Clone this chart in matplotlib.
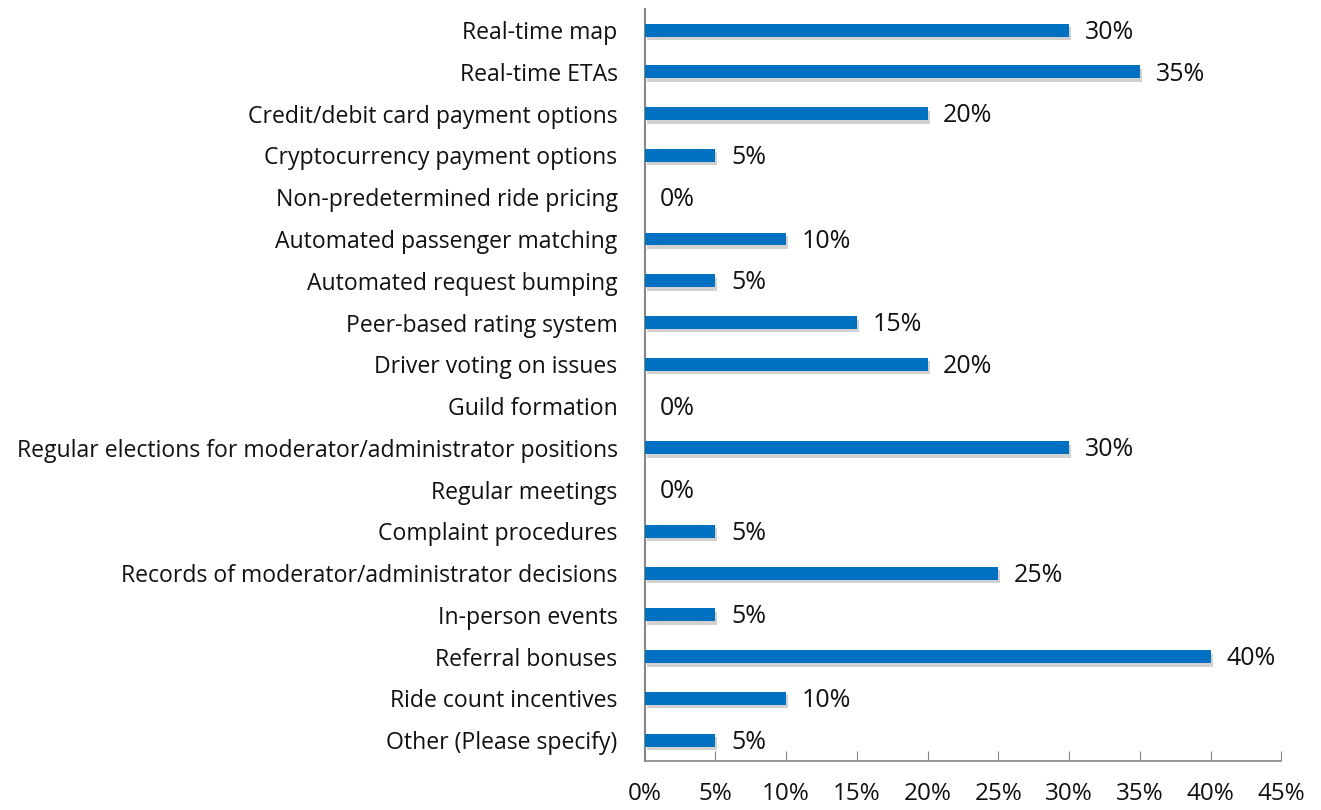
import matplotlib
matplotlib.use("Agg")
import matplotlib.pyplot as plt
import matplotlib.patheffects as pe
import numpy as np

features = [
    "Real-time map",
    "Real-time ETAs",
    "Credit/debit card payment options",
    "Cryptocurrency payment options",
    "Non-predetermined ride pricing",
    "Automated passenger matching",
    "Automated request bumping",
    "Peer-based rating system",
    "Driver voting on issues",
    "Guild formation",
    "Regular elections for moderator/administrator positions",
    "Regular meetings",
    "Complaint procedures",
    "Records of moderator/administrator decisions",
    "In-person events",
    "Referral bonuses",
    "Ride count incentives",
    "Other (Please specify)",
]
percent = [30, 35, 20, 5, 0, 10, 5, 15, 20, 0, 30, 0, 5, 25, 5, 40, 10, 5]
xticks = [0, 5, 10, 15, 20, 25, 30, 35, 40, 45]

plt.rcParams['font.family'] = ['Open Sans', 'DejaVu Sans']

fig = plt.figure(figsize=(13.21, 8.10), dpi=100)
ax = fig.add_axes([0.488, 0.0605, 0.482, 0.928])

y = np.arange(len(features))
bars = ax.barh(y, percent, height=0.31, color="#0070C0", zorder=3)
for b in bars:
    b.set_path_effects([pe.SimplePatchShadow(offset=(1.5, -2.5), shadow_rgbFace="#8c8c8c", alpha=0.4),
                        pe.Normal()])

for yi, v in zip(y, percent):
    ax.text(v + 1.1, yi + 0.05, f"{v}%", va="center", ha="left", fontsize=18, color="#111111")

ax.set_ylim(len(features) - 0.5, -0.5)
ax.set_xlim(0, 45)
ax.set_yticks(y)
ax.set_yticklabels(features, fontsize=16.6, color="#111111")
ax.set_xticks(xticks)
ax.set_xticklabels([f"{t}%" for t in xticks], fontsize=17.5, color="#111111")
ax.tick_params(axis="y", length=0, pad=19.5)
ax.tick_params(axis="x", direction="in", length=7, color="#868686", pad=15)

for s in ["top", "right"]:
    ax.spines[s].set_visible(False)
ax.spines["left"].set_color("#868686")
ax.spines["bottom"].set_color("#868686")
ax.spines["left"].set_linewidth(1.5)
ax.spines["bottom"].set_linewidth(1.2)

fig.savefig("out.png", dpi=100)
